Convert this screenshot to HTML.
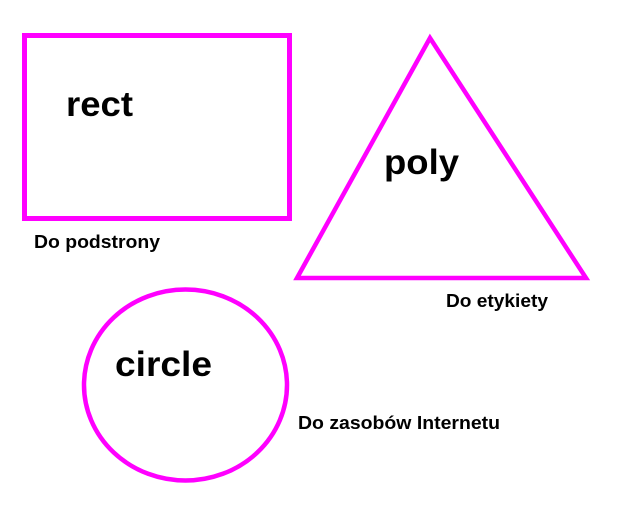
<!DOCTYPE html>
<html><head><meta charset="utf-8"><style>
html,body{margin:0;padding:0;background:#fff;}
svg{display:block;}
text{font-family:"Liberation Sans",Arial,sans-serif;font-weight:bold;fill:#000;}
</style></head><body>
<svg width="640" height="512" viewBox="0 0 640 512" xmlns="http://www.w3.org/2000/svg">
<rect x="0" y="0" width="640" height="512" fill="#fff"/>
<rect x="24.5" y="35.5" width="265" height="183" fill="none" stroke="#ff00ff" stroke-width="5"/>
<polygon points="430,38 297,278 586,278" fill="none" stroke="#ff00ff" stroke-width="4.5" stroke-linejoin="miter"/>
<ellipse cx="185.5" cy="385" rx="101.5" ry="95.5" fill="none" stroke="#ff00ff" stroke-width="4.5"/>
<text x="66" y="116" font-size="35" textLength="67" lengthAdjust="spacingAndGlyphs">rect</text>
<text x="384" y="174" font-size="35" textLength="75" lengthAdjust="spacingAndGlyphs">poly</text>
<text x="115" y="376" font-size="35" textLength="97" lengthAdjust="spacingAndGlyphs">circle</text>
<text x="34" y="248" font-size="18" textLength="126" lengthAdjust="spacingAndGlyphs">Do podstrony</text>
<text x="446" y="307" font-size="18" textLength="102" lengthAdjust="spacingAndGlyphs">Do etykiety</text>
<text x="298" y="429" font-size="18" textLength="202" lengthAdjust="spacingAndGlyphs">Do zasobów Internetu</text>
</svg>
</body></html>
